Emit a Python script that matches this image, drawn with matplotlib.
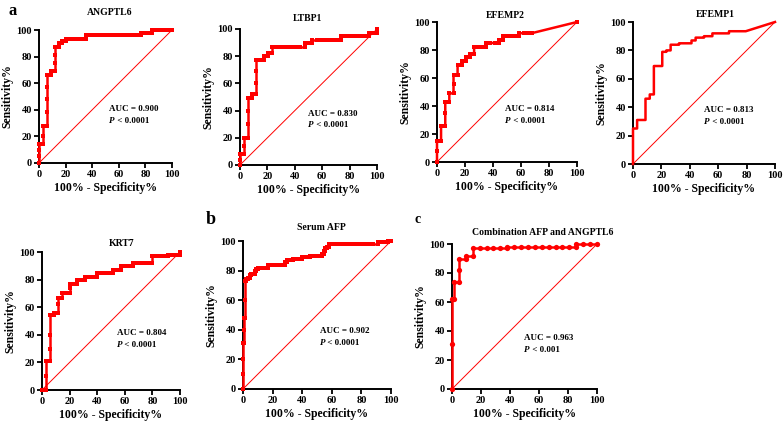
import matplotlib
matplotlib.use("Agg")
import matplotlib.pyplot as plt

plt.rcParams['font.family'] = ['Liberation Serif', 'DejaVu Serif']
plt.rcParams['font.weight'] = 'bold'

W, H = 784, 428

# ---------------- data (FPR %, sensitivity %) ----------------
angptl6 = [(0,0),(0,5),(0,10),(0,14),(2.9,14),(2.9,20),(2.9,28),(5.9,28),(5.9,38),(5.9,48),(5.9,57),(5.9,66),
           (8.8,66),(8.8,69),(11.8,69),(11.8,75),(11.8,81),(11.8,87),(14.7,87),(14.7,90),(17.6,90),(17.6,92),
           (20.6,92),(20.6,93),(23.5,93),(26.5,93),(29.4,93),(32.4,93),(35.3,93),(35.3,96),(38.2,96),(41.2,96),
           (44.1,96),(47.1,96),(50,96),(52.9,96),(55.9,96),(58.8,96),(61.8,96),(64.7,96),(67.6,96),(70.6,96),
           (73.5,96),(76.5,96),(76.5,98),(79.4,98),(82.4,98),(85.3,98),(85.3,100),(88.2,100),(91.2,100),
           (94.1,100),(97.1,100),(100,100)]
ltbp1 = [(0,0),(0,4),(0,8),(2.9,8),(2.9,14),(2.9,20),(5.9,20),(5.9,30),(5.9,40),(5.9,49),(8.8,49),(8.8,52),
         (11.8,52),(11.8,60),(11.8,69),(11.8,77),(14.7,77),(17.6,77),(17.6,80),(20.6,80),(20.6,82),(23.5,82),
         (23.5,87),(26.5,87),(29.4,87),(32.4,87),(35.3,87),(38.2,87),(41.2,87),(44.1,87),(47.1,87),(47.1,90),
         (50,90),(52.9,90),(52.9,92),(55.9,92),(58.8,92),(61.8,92),(64.7,92),(67.6,92),(70.6,92),(73.5,92),
         (73.5,95),(76.5,95),(79.4,95),(82.4,95),(85.3,95),(88.2,95),(91.2,95),(94.1,95),(94.1,97),(97.1,97),
         (100,97),(100,100)]
efemp2 = [(0,0),(0,8),(0,15),(2.9,15),(2.9,26),(5.9,26),(5.9,35),(5.9,43),(8.8,43),(8.8,49),(11.8,49),
          (11.8,56),(11.8,62),(14.7,62),(14.7,69),(17.6,69),(17.6,72),(20.6,72),(20.6,75),(23.5,75),(23.5,77),
          (26.5,77),(26.5,82),(29.4,82),(32.4,82),(35.3,82),(35.3,85),(38.2,85),(41.2,85),(44.1,85),(44.1,87),
          (47.1,87),(47.1,90),(50,90),(52.9,90),(55.9,90),(58.8,90),(58.8,92),(61.8,92),(64.7,92),(67.6,92),
          (100,100)]
efemp1 = [(0,0),(0,25),(2.9,25),(2.9,31),(8.8,31),(8.8,46),(11.8,46),(11.8,49),(14.7,49),(14.7,69),(20.6,69),
          (20.6,79),(23.5,79),(23.5,80),(26.5,80),(26.5,84),(32.4,84),(32.4,85),(41.2,85),(41.2,87),(44.1,87),
          (44.1,89),(50,89),(50,90),(55.9,90),(55.9,92),(67.6,92),(67.6,93.5),(79.4,93.5),(100,100)]
krt7 = [(0,0),(2.9,0),(2.9,10),(2.9,21),(5.7,21),(5.7,30),(5.7,40),(5.7,54),(8.6,54),(8.6,56),(11.4,56),
        (11.4,62),(11.4,67),(14.3,67),(14.3,70),(17.1,70),(20,70),(20,74),(20,77),(22.9,77),(25.7,77),(25.7,80),
        (28.6,80),(31.4,80),(31.4,82),(34.3,82),(37.1,82),(40,82),(40,85),(42.9,85),(45.7,85),(48.6,85),
        (51.4,85),(51.4,87),(54.3,87),(57.1,87),(57.1,90),(60,90),(62.9,90),(65.7,90),(65.7,92),(68.6,92),
        (71.4,92),(74.3,92),(77.1,92),(80,92),(80,97),(82.9,97),(85.7,97),(88.6,97),(91.4,97),(91.4,98),
        (94.3,98),(97.1,98),(100,98),(100,100)]
serum_afp = [(0,0),(0,10),(0,20),(0,31),(0.6,31),(0.6,40),(0.6,48),(1.1,48),(1.1,60),(1.1,73),(2.3,73),
             (2.3,74),(3.4,74),(3.4,75),(4.5,75),(4.5,77),(5.7,77),(5.7,78),(6.8,78),(8.0,78),(8.0,80),(9.1,80),
             (9.1,81),(10.2,81),(10.2,82),(12.5,82),(14.8,82),(17.0,82),(17.0,84),(19.3,84),(21.6,84),(23.9,84),
             (26.1,84),(28.4,84),(28.4,86),(29.5,86),(29.5,87),(31.8,87),(34.1,87),(34.1,88),(36.4,88),(38.6,88),
             (40.0,88),(40.0,89),(42.0,89),(44.3,89),(45.5,89),(45.5,90),(47.7,90),(50.0,90),(52.3,90),(53.4,90),
             (53.4,91),(54.5,91),(54.5,93),(55.7,93),(55.7,95),(56.8,95),(56.8,96),(58.0,96),(58.0,98),(60.2,98),
             (62.5,98),(64.8,98),(67.0,98),(69.3,98),(71.6,98),(73.9,98),(76.1,98),(78.4,98),(80.7,98),(83.0,98),
             (85.2,98),(87.5,98),(90.9,98),(90.9,99),(93.2,99),(95.5,99),(97.7,99),(97.7,100),(100,100)]
combination = [(0,0),(0,31),(0,62),(1.2,62),(1.2,73.5),(4.8,73.5),(4.8,82),(4.8,90),(9.5,90),(9.5,92),
               (14.3,92),(14.3,97),(19.0,97),(23.8,97),(28.6,97),(33.3,97),(38.1,97),(38.1,98),(42.9,98),
               (47.6,98),(52.4,98),(57.1,98),(61.9,98),(66.7,98),(71.4,98),(76.2,98),(81.0,98),(85.7,98),
               (85.7,100),(90.5,100),(95.2,100),(100,100)]

titles = ["ANGPTL6", "LTBP1", "EFEMP2", "EFEMP1", "KRT7", "Serum AFP", "Combination AFP and ANGPTL6"]
aucs = ["0.900", "0.830", "0.814", "0.813", "0.804", "0.902", "0.963"]
pvals = ["< 0.0001", "< 0.0001", "< 0.0001", "< 0.0001", "< 0.0001", "< 0.0001", "< 0.001"]
curves = [angptl6, ltbp1, efemp2, efemp1, krt7, serum_afp, combination]
ticks = [0, 20, 40, 60, 80, 100]

# ---------------- layout (pixel boxes: left, right, top, bottom) ----------------
boxes = [(39,172,30,163),(240,377,29,165),(437,577,22,162),(633,775,22,164),
         (42,180,252,390),(243,391,241,389),(452,597,244,389)]
title_pos = [(0.53,1.13),(0.49,1.08),(0.486,1.05),(0.577,1.05),(0.58,1.065),(0.527,1.088),(0.628,1.076)]
auc_pos = [(53,40.6,31.6),(50,37.5,29.4),(48.6,37.9,29.3),(50,38,29.6),(54,41.3,32.6),(52,39,31),(49.7,35,27)]
markers = ['s','s','s',None,'s','s','o']
msizes = [2.8,2.8,2.8,0,2.8,2.8,3.8]

fig = plt.figure(figsize=(W/100, H/100), dpi=100)
red = '#FF0000'

for i in range(7):
    l, r, t, b = boxes[i]
    ax = fig.add_axes([l/W, (H-b)/H, (r-l)/W, (b-t)/H])
    xs = [p[0] for p in curves[i]]
    ys = [p[1] for p in curves[i]]
    ax.plot([0, 100], [0, 100], color=red, lw=0.7, clip_on=False, zorder=2)
    ax.plot(xs, ys, color=red, lw=1.8, marker=markers[i], ms=msizes[i], mew=0,
            clip_on=False, zorder=3)
    ax.set_xlim(0, 100)
    ax.set_ylim(0, 100)
    ax.set_xticks(ticks)
    ax.set_yticks(ticks)
    for s in ['top', 'right']:
        ax.spines[s].set_visible(False)
    for s in ['left', 'bottom']:
        ax.spines[s].set_linewidth(1.4)
    ax.tick_params(axis='both', length=3.5, width=1.3, pad=1.5, labelsize=7.5)
    for lab in ax.get_xticklabels() + ax.get_yticklabels():
        lab.set_fontweight('bold')
    ax.set_xlabel("100% - Specificity%", fontsize=8.5, fontweight='bold', labelpad=2)
    ax.set_ylabel("Sensitivity%", fontsize=8.5, fontweight='bold', labelpad=2)
    tx, ty = title_pos[i]
    ax.text(tx, ty, titles[i], transform=ax.transAxes, ha='center', va='center',
            fontsize=7, fontweight='bold')
    axx, ay1, ay2 = auc_pos[i]
    ax.text(axx, ay1, "AUC = " + aucs[i], ha='left', va='center', fontsize=6.5, fontweight='bold')
    pt = ax.text(axx, ay2, "P", ha='left', va='center', fontsize=6.5, fontweight='bold',
                 fontstyle='italic')
    ax.annotate(" " + pvals[i], xy=(1, 0.5), xycoords=pt, ha='left', va='center',
                fontsize=6.5, fontweight='bold')

fig.text(13/W, 1-11/H, "a", ha='center', va='center', fontsize=12, fontweight='bold')
fig.text(211/W, 1-219/H, "b", ha='center', va='center', fontsize=13, fontweight='bold')
fig.text(418/W, 1-220/H, "c", ha='center', va='center', fontsize=10, fontweight='bold')

fig.savefig("out.png", dpi=100)
